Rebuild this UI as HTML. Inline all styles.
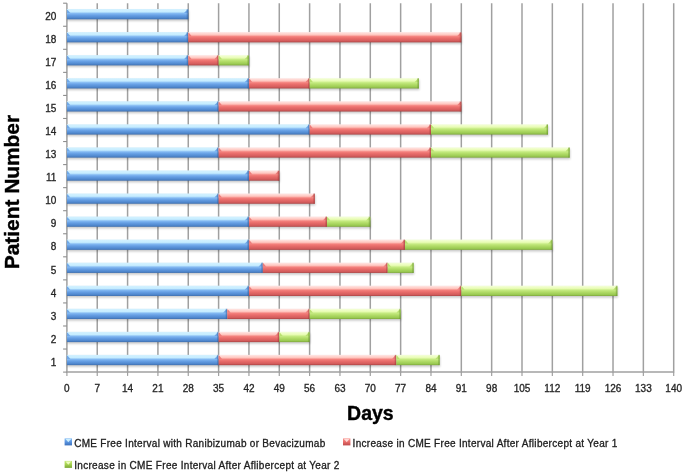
<!DOCTYPE html>
<html><head><meta charset="utf-8"><title>Chart</title>
<style>
html,body{margin:0;padding:0;background:#fff;}
body{width:685px;height:475px;overflow:hidden;}
svg{display:block;font-family:"Liberation Sans",sans-serif;}
.t{font-size:10px;fill:#262626;stroke:#262626;stroke-width:0.32px;}
.l{font-size:10px;fill:#202020;stroke:#202020;stroke-width:0.3px;}
.b{font-size:21px;font-weight:bold;fill:#000;stroke:#000;stroke-width:0.4px;}
</style></head><body>
<svg width="685" height="475" viewBox="0 0 685 475">
<defs>
<linearGradient id="gb" x1="0" y1="0" x2="0" y2="1">
<stop offset="0" stop-color="#d4f1ff"/><stop offset="0.27" stop-color="#c6edff"/><stop offset="0.44" stop-color="#82b8f2"/><stop offset="0.62" stop-color="#669fe4"/><stop offset="0.86" stop-color="#4f87cd"/><stop offset="1" stop-color="#3f6fae"/>
</linearGradient>
<linearGradient id="gr" x1="0" y1="0" x2="0" y2="1">
<stop offset="0" stop-color="#ffe9e7"/><stop offset="0.27" stop-color="#ffc6bf"/><stop offset="0.44" stop-color="#f4807c"/><stop offset="0.62" stop-color="#e86c6a"/><stop offset="0.86" stop-color="#d35c5c"/><stop offset="1" stop-color="#ab4444"/>
</linearGradient>
<linearGradient id="gg" x1="0" y1="0" x2="0" y2="1">
<stop offset="0" stop-color="#f5ffdc"/><stop offset="0.27" stop-color="#e8fcb4"/><stop offset="0.44" stop-color="#c4ea80"/><stop offset="0.62" stop-color="#b2dc68"/><stop offset="0.86" stop-color="#9aca52"/><stop offset="1" stop-color="#7ea63c"/>
</linearGradient>
<linearGradient id="mgb" x1="0" y1="0" x2="0" y2="1"><stop offset="0" stop-color="#86bcf4"/><stop offset="0.5" stop-color="#5a94e0"/><stop offset="1" stop-color="#3c70bc"/></linearGradient>
<linearGradient id="mgr" x1="0" y1="0" x2="0" y2="1"><stop offset="0" stop-color="#f99a94"/><stop offset="0.5" stop-color="#e86c6a"/><stop offset="1" stop-color="#bd4a4a"/></linearGradient>
<linearGradient id="mgg" x1="0" y1="0" x2="0" y2="1"><stop offset="0" stop-color="#c6ea78"/><stop offset="0.5" stop-color="#a6d24f"/><stop offset="1" stop-color="#7aa636"/></linearGradient>
<linearGradient id="egb" x1="0" y1="0" x2="1" y2="0"><stop offset="0" stop-color="#2f5c99" stop-opacity="0"/><stop offset="1" stop-color="#2f5c99" stop-opacity="0.75"/></linearGradient>
<linearGradient id="egr" x1="0" y1="0" x2="1" y2="0"><stop offset="0" stop-color="#9c3535" stop-opacity="0"/><stop offset="1" stop-color="#9c3535" stop-opacity="0.75"/></linearGradient>
<linearGradient id="egg" x1="0" y1="0" x2="1" y2="0"><stop offset="0" stop-color="#64902a" stop-opacity="0"/><stop offset="1" stop-color="#64902a" stop-opacity="0.75"/></linearGradient>
<filter id="sh" x="-5%" y="-50%" width="110%" height="220%"><feGaussianBlur stdDeviation="1.1"/></filter>
</defs>
<rect width="685" height="475" fill="#fff"/>

<g stroke="#a0a0a0" stroke-width="1.5" fill="none">
<line x1="66.90" y1="3.20" x2="66.90" y2="373.00"/>
<line x1="66.90" y1="373.00" x2="66.90" y2="375.90" stroke="#a0a0a0" stroke-width="1.2"/>
<line x1="97.24" y1="3.20" x2="97.24" y2="373.00"/>
<line x1="97.24" y1="373.00" x2="97.24" y2="375.90" stroke="#a0a0a0" stroke-width="1.2"/>
<line x1="127.58" y1="3.20" x2="127.58" y2="373.00"/>
<line x1="127.58" y1="373.00" x2="127.58" y2="375.90" stroke="#a0a0a0" stroke-width="1.2"/>
<line x1="157.92" y1="3.20" x2="157.92" y2="373.00"/>
<line x1="157.92" y1="373.00" x2="157.92" y2="375.90" stroke="#a0a0a0" stroke-width="1.2"/>
<line x1="188.26" y1="3.20" x2="188.26" y2="373.00"/>
<line x1="188.26" y1="373.00" x2="188.26" y2="375.90" stroke="#a0a0a0" stroke-width="1.2"/>
<line x1="218.60" y1="3.20" x2="218.60" y2="373.00"/>
<line x1="218.60" y1="373.00" x2="218.60" y2="375.90" stroke="#a0a0a0" stroke-width="1.2"/>
<line x1="248.94" y1="3.20" x2="248.94" y2="373.00"/>
<line x1="248.94" y1="373.00" x2="248.94" y2="375.90" stroke="#a0a0a0" stroke-width="1.2"/>
<line x1="279.28" y1="3.20" x2="279.28" y2="373.00"/>
<line x1="279.28" y1="373.00" x2="279.28" y2="375.90" stroke="#a0a0a0" stroke-width="1.2"/>
<line x1="309.62" y1="3.20" x2="309.62" y2="373.00"/>
<line x1="309.62" y1="373.00" x2="309.62" y2="375.90" stroke="#a0a0a0" stroke-width="1.2"/>
<line x1="339.96" y1="3.20" x2="339.96" y2="373.00"/>
<line x1="339.96" y1="373.00" x2="339.96" y2="375.90" stroke="#a0a0a0" stroke-width="1.2"/>
<line x1="370.30" y1="3.20" x2="370.30" y2="373.00"/>
<line x1="370.30" y1="373.00" x2="370.30" y2="375.90" stroke="#a0a0a0" stroke-width="1.2"/>
<line x1="400.64" y1="3.20" x2="400.64" y2="373.00"/>
<line x1="400.64" y1="373.00" x2="400.64" y2="375.90" stroke="#a0a0a0" stroke-width="1.2"/>
<line x1="430.98" y1="3.20" x2="430.98" y2="373.00"/>
<line x1="430.98" y1="373.00" x2="430.98" y2="375.90" stroke="#a0a0a0" stroke-width="1.2"/>
<line x1="461.32" y1="3.20" x2="461.32" y2="373.00"/>
<line x1="461.32" y1="373.00" x2="461.32" y2="375.90" stroke="#a0a0a0" stroke-width="1.2"/>
<line x1="491.66" y1="3.20" x2="491.66" y2="373.00"/>
<line x1="491.66" y1="373.00" x2="491.66" y2="375.90" stroke="#a0a0a0" stroke-width="1.2"/>
<line x1="522.00" y1="3.20" x2="522.00" y2="373.00"/>
<line x1="522.00" y1="373.00" x2="522.00" y2="375.90" stroke="#a0a0a0" stroke-width="1.2"/>
<line x1="552.34" y1="3.20" x2="552.34" y2="373.00"/>
<line x1="552.34" y1="373.00" x2="552.34" y2="375.90" stroke="#a0a0a0" stroke-width="1.2"/>
<line x1="582.68" y1="3.20" x2="582.68" y2="373.00"/>
<line x1="582.68" y1="373.00" x2="582.68" y2="375.90" stroke="#a0a0a0" stroke-width="1.2"/>
<line x1="613.02" y1="3.20" x2="613.02" y2="373.00"/>
<line x1="613.02" y1="373.00" x2="613.02" y2="375.90" stroke="#a0a0a0" stroke-width="1.2"/>
<line x1="643.36" y1="3.20" x2="643.36" y2="373.00"/>
<line x1="643.36" y1="373.00" x2="643.36" y2="375.90" stroke="#a0a0a0" stroke-width="1.2"/>
<line x1="673.70" y1="3.20" x2="673.70" y2="373.00"/>
<line x1="673.70" y1="373.00" x2="673.70" y2="375.90" stroke="#a0a0a0" stroke-width="1.2"/>
<line x1="66.90" y1="372.10" x2="673.70" y2="372.10"/>
<line x1="63.10" y1="3.20" x2="66.90" y2="3.20" stroke="#8e8e8e" stroke-width="1.1"/>
<line x1="63.10" y1="26.26" x2="66.90" y2="26.26" stroke="#8e8e8e" stroke-width="1.1"/>
<line x1="63.10" y1="49.31" x2="66.90" y2="49.31" stroke="#8e8e8e" stroke-width="1.1"/>
<line x1="63.10" y1="72.37" x2="66.90" y2="72.37" stroke="#8e8e8e" stroke-width="1.1"/>
<line x1="63.10" y1="95.43" x2="66.90" y2="95.43" stroke="#8e8e8e" stroke-width="1.1"/>
<line x1="63.10" y1="118.48" x2="66.90" y2="118.48" stroke="#8e8e8e" stroke-width="1.1"/>
<line x1="63.10" y1="141.54" x2="66.90" y2="141.54" stroke="#8e8e8e" stroke-width="1.1"/>
<line x1="63.10" y1="164.59" x2="66.90" y2="164.59" stroke="#8e8e8e" stroke-width="1.1"/>
<line x1="63.10" y1="187.65" x2="66.90" y2="187.65" stroke="#8e8e8e" stroke-width="1.1"/>
<line x1="63.10" y1="210.71" x2="66.90" y2="210.71" stroke="#8e8e8e" stroke-width="1.1"/>
<line x1="63.10" y1="233.76" x2="66.90" y2="233.76" stroke="#8e8e8e" stroke-width="1.1"/>
<line x1="63.10" y1="256.82" x2="66.90" y2="256.82" stroke="#8e8e8e" stroke-width="1.1"/>
<line x1="63.10" y1="279.88" x2="66.90" y2="279.88" stroke="#8e8e8e" stroke-width="1.1"/>
<line x1="63.10" y1="302.93" x2="66.90" y2="302.93" stroke="#8e8e8e" stroke-width="1.1"/>
<line x1="63.10" y1="325.99" x2="66.90" y2="325.99" stroke="#8e8e8e" stroke-width="1.1"/>
<line x1="63.10" y1="349.04" x2="66.90" y2="349.04" stroke="#8e8e8e" stroke-width="1.1"/>
<line x1="63.10" y1="372.10" x2="66.90" y2="372.10" stroke="#8e8e8e" stroke-width="1.1"/>
</g>
<g fill="#000" opacity="0.22" filter="url(#sh)">
<rect x="67.40" y="10.60" width="121.36" height="10.30"/>
<rect x="67.40" y="33.66" width="394.42" height="10.30"/>
<rect x="67.40" y="56.71" width="182.04" height="10.30"/>
<rect x="67.40" y="79.77" width="351.94" height="10.30"/>
<rect x="67.40" y="102.83" width="394.42" height="10.30"/>
<rect x="67.40" y="125.88" width="481.11" height="10.30"/>
<rect x="67.40" y="148.94" width="502.78" height="10.30"/>
<rect x="67.40" y="172.00" width="212.38" height="10.30"/>
<rect x="67.40" y="195.06" width="247.92" height="10.30"/>
<rect x="67.40" y="218.11" width="303.40" height="10.30"/>
<rect x="67.40" y="241.17" width="485.44" height="10.30"/>
<rect x="67.40" y="264.23" width="346.74" height="10.30"/>
<rect x="67.40" y="287.28" width="550.45" height="10.30"/>
<rect x="67.40" y="310.34" width="333.74" height="10.30"/>
<rect x="67.40" y="333.40" width="242.72" height="10.30"/>
<rect x="67.40" y="356.45" width="372.75" height="10.30"/>
</g>
<rect x="66.90" y="9.00" width="121.36" height="10.30" fill="url(#gb)"/>
<polygon points="184.06,13.10 187.16,9.70 188.26,9.70 188.26,13.10" fill="#6fa7e8"/>
<polygon points="66.90,9.70 67.50,9.70 70.30,13.10 66.90,13.10" fill="#6fa7e8"/>
<rect x="186.06" y="9.00" width="2.2" height="10.30" fill="url(#egb)"/>
<rect x="66.90" y="32.06" width="121.36" height="10.30" fill="url(#gb)"/>
<polygon points="184.06,36.16 187.16,32.76 188.26,32.76 188.26,36.16" fill="#6fa7e8"/>
<polygon points="66.90,32.76 67.50,32.76 70.30,36.16 66.90,36.16" fill="#6fa7e8"/>
<rect x="186.06" y="32.06" width="2.2" height="10.30" fill="url(#egb)"/>
<rect x="188.26" y="32.06" width="273.06" height="10.30" fill="url(#gr)"/>
<polygon points="457.12,36.16 460.22,32.76 461.32,32.76 461.32,36.16" fill="#ec7d7a"/>
<polygon points="188.26,32.76 188.86,32.76 191.66,36.16 188.26,36.16" fill="#ec7d7a"/>
<rect x="459.12" y="32.06" width="2.2" height="10.30" fill="url(#egr)"/>
<rect x="66.90" y="55.11" width="121.36" height="10.30" fill="url(#gb)"/>
<polygon points="184.06,59.21 187.16,55.81 188.26,55.81 188.26,59.21" fill="#6fa7e8"/>
<polygon points="66.90,55.81 67.50,55.81 70.30,59.21 66.90,59.21" fill="#6fa7e8"/>
<rect x="186.06" y="55.11" width="2.2" height="10.30" fill="url(#egb)"/>
<rect x="188.26" y="55.11" width="30.34" height="10.30" fill="url(#gr)"/>
<polygon points="214.40,59.21 217.50,55.81 218.60,55.81 218.60,59.21" fill="#ec7d7a"/>
<polygon points="188.26,55.81 188.86,55.81 191.66,59.21 188.26,59.21" fill="#ec7d7a"/>
<rect x="216.40" y="55.11" width="2.2" height="10.30" fill="url(#egr)"/>
<rect x="218.60" y="55.11" width="30.34" height="10.30" fill="url(#gg)"/>
<polygon points="244.74,59.21 247.84,55.81 248.94,55.81 248.94,59.21" fill="#b9e070"/>
<polygon points="218.60,55.81 219.20,55.81 222.00,59.21 218.60,59.21" fill="#b9e070"/>
<rect x="246.74" y="55.11" width="2.2" height="10.30" fill="url(#egg)"/>
<rect x="66.90" y="78.17" width="182.04" height="10.30" fill="url(#gb)"/>
<polygon points="244.74,82.27 247.84,78.87 248.94,78.87 248.94,82.27" fill="#6fa7e8"/>
<polygon points="66.90,78.87 67.50,78.87 70.30,82.27 66.90,82.27" fill="#6fa7e8"/>
<rect x="246.74" y="78.17" width="2.2" height="10.30" fill="url(#egb)"/>
<rect x="248.94" y="78.17" width="60.68" height="10.30" fill="url(#gr)"/>
<polygon points="305.42,82.27 308.52,78.87 309.62,78.87 309.62,82.27" fill="#ec7d7a"/>
<polygon points="248.94,78.87 249.54,78.87 252.34,82.27 248.94,82.27" fill="#ec7d7a"/>
<rect x="307.42" y="78.17" width="2.2" height="10.30" fill="url(#egr)"/>
<rect x="309.62" y="78.17" width="109.22" height="10.30" fill="url(#gg)"/>
<polygon points="414.64,82.27 417.74,78.87 418.84,78.87 418.84,82.27" fill="#b9e070"/>
<polygon points="309.62,78.87 310.22,78.87 313.02,82.27 309.62,82.27" fill="#b9e070"/>
<rect x="416.64" y="78.17" width="2.2" height="10.30" fill="url(#egg)"/>
<rect x="66.90" y="101.23" width="151.70" height="10.30" fill="url(#gb)"/>
<polygon points="214.40,105.33 217.50,101.93 218.60,101.93 218.60,105.33" fill="#6fa7e8"/>
<polygon points="66.90,101.93 67.50,101.93 70.30,105.33 66.90,105.33" fill="#6fa7e8"/>
<rect x="216.40" y="101.23" width="2.2" height="10.30" fill="url(#egb)"/>
<rect x="218.60" y="101.23" width="242.72" height="10.30" fill="url(#gr)"/>
<polygon points="457.12,105.33 460.22,101.93 461.32,101.93 461.32,105.33" fill="#ec7d7a"/>
<polygon points="218.60,101.93 219.20,101.93 222.00,105.33 218.60,105.33" fill="#ec7d7a"/>
<rect x="459.12" y="101.23" width="2.2" height="10.30" fill="url(#egr)"/>
<rect x="66.90" y="124.28" width="242.72" height="10.30" fill="url(#gb)"/>
<polygon points="305.42,128.38 308.52,124.98 309.62,124.98 309.62,128.38" fill="#6fa7e8"/>
<polygon points="66.90,124.98 67.50,124.98 70.30,128.38 66.90,128.38" fill="#6fa7e8"/>
<rect x="307.42" y="124.28" width="2.2" height="10.30" fill="url(#egb)"/>
<rect x="309.62" y="124.28" width="121.36" height="10.30" fill="url(#gr)"/>
<polygon points="426.78,128.38 429.88,124.98 430.98,124.98 430.98,128.38" fill="#ec7d7a"/>
<polygon points="309.62,124.98 310.22,124.98 313.02,128.38 309.62,128.38" fill="#ec7d7a"/>
<rect x="428.78" y="124.28" width="2.2" height="10.30" fill="url(#egr)"/>
<rect x="430.98" y="124.28" width="117.03" height="10.30" fill="url(#gg)"/>
<polygon points="543.81,128.38 546.91,124.98 548.01,124.98 548.01,128.38" fill="#b9e070"/>
<polygon points="430.98,124.98 431.58,124.98 434.38,128.38 430.98,128.38" fill="#b9e070"/>
<rect x="545.81" y="124.28" width="2.2" height="10.30" fill="url(#egg)"/>
<rect x="66.90" y="147.34" width="151.70" height="10.30" fill="url(#gb)"/>
<polygon points="214.40,151.44 217.50,148.04 218.60,148.04 218.60,151.44" fill="#6fa7e8"/>
<polygon points="66.90,148.04 67.50,148.04 70.30,151.44 66.90,151.44" fill="#6fa7e8"/>
<rect x="216.40" y="147.34" width="2.2" height="10.30" fill="url(#egb)"/>
<rect x="218.60" y="147.34" width="212.38" height="10.30" fill="url(#gr)"/>
<polygon points="426.78,151.44 429.88,148.04 430.98,148.04 430.98,151.44" fill="#ec7d7a"/>
<polygon points="218.60,148.04 219.20,148.04 222.00,151.44 218.60,151.44" fill="#ec7d7a"/>
<rect x="428.78" y="147.34" width="2.2" height="10.30" fill="url(#egr)"/>
<rect x="430.98" y="147.34" width="138.70" height="10.30" fill="url(#gg)"/>
<polygon points="565.48,151.44 568.58,148.04 569.68,148.04 569.68,151.44" fill="#b9e070"/>
<polygon points="430.98,148.04 431.58,148.04 434.38,151.44 430.98,151.44" fill="#b9e070"/>
<rect x="567.48" y="147.34" width="2.2" height="10.30" fill="url(#egg)"/>
<rect x="66.90" y="170.40" width="182.04" height="10.30" fill="url(#gb)"/>
<polygon points="244.74,174.50 247.84,171.10 248.94,171.10 248.94,174.50" fill="#6fa7e8"/>
<polygon points="66.90,171.10 67.50,171.10 70.30,174.50 66.90,174.50" fill="#6fa7e8"/>
<rect x="246.74" y="170.40" width="2.2" height="10.30" fill="url(#egb)"/>
<rect x="248.94" y="170.40" width="30.34" height="10.30" fill="url(#gr)"/>
<polygon points="275.08,174.50 278.18,171.10 279.28,171.10 279.28,174.50" fill="#ec7d7a"/>
<polygon points="248.94,171.10 249.54,171.10 252.34,174.50 248.94,174.50" fill="#ec7d7a"/>
<rect x="277.08" y="170.40" width="2.2" height="10.30" fill="url(#egr)"/>
<rect x="66.90" y="193.46" width="151.70" height="10.30" fill="url(#gb)"/>
<polygon points="214.40,197.56 217.50,194.16 218.60,194.16 218.60,197.56" fill="#6fa7e8"/>
<polygon points="66.90,194.16 67.50,194.16 70.30,197.56 66.90,197.56" fill="#6fa7e8"/>
<rect x="216.40" y="193.46" width="2.2" height="10.30" fill="url(#egb)"/>
<rect x="218.60" y="193.46" width="96.22" height="10.30" fill="url(#gr)"/>
<polygon points="310.62,197.56 313.72,194.16 314.82,194.16 314.82,197.56" fill="#ec7d7a"/>
<polygon points="218.60,194.16 219.20,194.16 222.00,197.56 218.60,197.56" fill="#ec7d7a"/>
<rect x="312.62" y="193.46" width="2.2" height="10.30" fill="url(#egr)"/>
<rect x="66.90" y="216.51" width="182.04" height="10.30" fill="url(#gb)"/>
<polygon points="244.74,220.61 247.84,217.21 248.94,217.21 248.94,220.61" fill="#6fa7e8"/>
<polygon points="66.90,217.21 67.50,217.21 70.30,220.61 66.90,220.61" fill="#6fa7e8"/>
<rect x="246.74" y="216.51" width="2.2" height="10.30" fill="url(#egb)"/>
<rect x="248.94" y="216.51" width="78.02" height="10.30" fill="url(#gr)"/>
<polygon points="322.76,220.61 325.86,217.21 326.96,217.21 326.96,220.61" fill="#ec7d7a"/>
<polygon points="248.94,217.21 249.54,217.21 252.34,220.61 248.94,220.61" fill="#ec7d7a"/>
<rect x="324.76" y="216.51" width="2.2" height="10.30" fill="url(#egr)"/>
<rect x="326.96" y="216.51" width="43.34" height="10.30" fill="url(#gg)"/>
<polygon points="366.10,220.61 369.20,217.21 370.30,217.21 370.30,220.61" fill="#b9e070"/>
<polygon points="326.96,217.21 327.56,217.21 330.36,220.61 326.96,220.61" fill="#b9e070"/>
<rect x="368.10" y="216.51" width="2.2" height="10.30" fill="url(#egg)"/>
<rect x="66.90" y="239.57" width="182.04" height="10.30" fill="url(#gb)"/>
<polygon points="244.74,243.67 247.84,240.27 248.94,240.27 248.94,243.67" fill="#6fa7e8"/>
<polygon points="66.90,240.27 67.50,240.27 70.30,243.67 66.90,243.67" fill="#6fa7e8"/>
<rect x="246.74" y="239.57" width="2.2" height="10.30" fill="url(#egb)"/>
<rect x="248.94" y="239.57" width="156.03" height="10.30" fill="url(#gr)"/>
<polygon points="400.77,243.67 403.87,240.27 404.97,240.27 404.97,243.67" fill="#ec7d7a"/>
<polygon points="248.94,240.27 249.54,240.27 252.34,243.67 248.94,243.67" fill="#ec7d7a"/>
<rect x="402.77" y="239.57" width="2.2" height="10.30" fill="url(#egr)"/>
<rect x="404.97" y="239.57" width="147.37" height="10.30" fill="url(#gg)"/>
<polygon points="548.14,243.67 551.24,240.27 552.34,240.27 552.34,243.67" fill="#b9e070"/>
<polygon points="404.97,240.27 405.57,240.27 408.37,243.67 404.97,243.67" fill="#b9e070"/>
<rect x="550.14" y="239.57" width="2.2" height="10.30" fill="url(#egg)"/>
<rect x="66.90" y="262.63" width="195.91" height="10.30" fill="url(#gb)"/>
<polygon points="258.61,266.73 261.71,263.33 262.81,263.33 262.81,266.73" fill="#6fa7e8"/>
<polygon points="66.90,263.33 67.50,263.33 70.30,266.73 66.90,266.73" fill="#6fa7e8"/>
<rect x="260.61" y="262.63" width="2.2" height="10.30" fill="url(#egb)"/>
<rect x="262.81" y="262.63" width="124.83" height="10.30" fill="url(#gr)"/>
<polygon points="383.44,266.73 386.54,263.33 387.64,263.33 387.64,266.73" fill="#ec7d7a"/>
<polygon points="262.81,263.33 263.41,263.33 266.21,266.73 262.81,266.73" fill="#ec7d7a"/>
<rect x="385.44" y="262.63" width="2.2" height="10.30" fill="url(#egr)"/>
<rect x="387.64" y="262.63" width="26.01" height="10.30" fill="url(#gg)"/>
<polygon points="409.44,266.73 412.54,263.33 413.64,263.33 413.64,266.73" fill="#b9e070"/>
<polygon points="387.64,263.33 388.24,263.33 391.04,266.73 387.64,266.73" fill="#b9e070"/>
<rect x="411.44" y="262.63" width="2.2" height="10.30" fill="url(#egg)"/>
<rect x="66.90" y="285.68" width="182.04" height="10.30" fill="url(#gb)"/>
<polygon points="244.74,289.78 247.84,286.38 248.94,286.38 248.94,289.78" fill="#6fa7e8"/>
<polygon points="66.90,286.38 67.50,286.38 70.30,289.78 66.90,289.78" fill="#6fa7e8"/>
<rect x="246.74" y="285.68" width="2.2" height="10.30" fill="url(#egb)"/>
<rect x="248.94" y="285.68" width="212.38" height="10.30" fill="url(#gr)"/>
<polygon points="457.12,289.78 460.22,286.38 461.32,286.38 461.32,289.78" fill="#ec7d7a"/>
<polygon points="248.94,286.38 249.54,286.38 252.34,289.78 248.94,289.78" fill="#ec7d7a"/>
<rect x="459.12" y="285.68" width="2.2" height="10.30" fill="url(#egr)"/>
<rect x="461.32" y="285.68" width="156.03" height="10.30" fill="url(#gg)"/>
<polygon points="613.15,289.78 616.25,286.38 617.35,286.38 617.35,289.78" fill="#b9e070"/>
<polygon points="461.32,286.38 461.92,286.38 464.72,289.78 461.32,289.78" fill="#b9e070"/>
<rect x="615.15" y="285.68" width="2.2" height="10.30" fill="url(#egg)"/>
<rect x="66.90" y="308.74" width="160.37" height="10.30" fill="url(#gb)"/>
<polygon points="223.07,312.84 226.17,309.44 227.27,309.44 227.27,312.84" fill="#6fa7e8"/>
<polygon points="66.90,309.44 67.50,309.44 70.30,312.84 66.90,312.84" fill="#6fa7e8"/>
<rect x="225.07" y="308.74" width="2.2" height="10.30" fill="url(#egb)"/>
<rect x="227.27" y="308.74" width="82.35" height="10.30" fill="url(#gr)"/>
<polygon points="305.42,312.84 308.52,309.44 309.62,309.44 309.62,312.84" fill="#ec7d7a"/>
<polygon points="227.27,309.44 227.87,309.44 230.67,312.84 227.27,312.84" fill="#ec7d7a"/>
<rect x="307.42" y="308.74" width="2.2" height="10.30" fill="url(#egr)"/>
<rect x="309.62" y="308.74" width="91.02" height="10.30" fill="url(#gg)"/>
<polygon points="396.44,312.84 399.54,309.44 400.64,309.44 400.64,312.84" fill="#b9e070"/>
<polygon points="309.62,309.44 310.22,309.44 313.02,312.84 309.62,312.84" fill="#b9e070"/>
<rect x="398.44" y="308.74" width="2.2" height="10.30" fill="url(#egg)"/>
<rect x="66.90" y="331.80" width="151.70" height="10.30" fill="url(#gb)"/>
<polygon points="214.40,335.90 217.50,332.50 218.60,332.50 218.60,335.90" fill="#6fa7e8"/>
<polygon points="66.90,332.50 67.50,332.50 70.30,335.90 66.90,335.90" fill="#6fa7e8"/>
<rect x="216.40" y="331.80" width="2.2" height="10.30" fill="url(#egb)"/>
<rect x="218.60" y="331.80" width="60.68" height="10.30" fill="url(#gr)"/>
<polygon points="275.08,335.90 278.18,332.50 279.28,332.50 279.28,335.90" fill="#ec7d7a"/>
<polygon points="218.60,332.50 219.20,332.50 222.00,335.90 218.60,335.90" fill="#ec7d7a"/>
<rect x="277.08" y="331.80" width="2.2" height="10.30" fill="url(#egr)"/>
<rect x="279.28" y="331.80" width="30.34" height="10.30" fill="url(#gg)"/>
<polygon points="305.42,335.90 308.52,332.50 309.62,332.50 309.62,335.90" fill="#b9e070"/>
<polygon points="279.28,332.50 279.88,332.50 282.68,335.90 279.28,335.90" fill="#b9e070"/>
<rect x="307.42" y="331.80" width="2.2" height="10.30" fill="url(#egg)"/>
<rect x="66.90" y="354.85" width="151.70" height="10.30" fill="url(#gb)"/>
<polygon points="214.40,358.95 217.50,355.55 218.60,355.55 218.60,358.95" fill="#6fa7e8"/>
<polygon points="66.90,355.55 67.50,355.55 70.30,358.95 66.90,358.95" fill="#6fa7e8"/>
<rect x="216.40" y="354.85" width="2.2" height="10.30" fill="url(#egb)"/>
<rect x="218.60" y="354.85" width="177.71" height="10.30" fill="url(#gr)"/>
<polygon points="392.11,358.95 395.21,355.55 396.31,355.55 396.31,358.95" fill="#ec7d7a"/>
<polygon points="218.60,355.55 219.20,355.55 222.00,358.95 218.60,358.95" fill="#ec7d7a"/>
<rect x="394.11" y="354.85" width="2.2" height="10.30" fill="url(#egr)"/>
<rect x="396.31" y="354.85" width="43.34" height="10.30" fill="url(#gg)"/>
<polygon points="435.45,358.95 438.55,355.55 439.65,355.55 439.65,358.95" fill="#b9e070"/>
<polygon points="396.31,355.55 396.91,355.55 399.71,358.95 396.31,358.95" fill="#b9e070"/>
<rect x="437.45" y="354.85" width="2.2" height="10.30" fill="url(#egg)"/>
<g class="t" text-anchor="end">
<text x="56.3" y="19.75">20</text>
<text x="56.3" y="42.82">18</text>
<text x="56.3" y="65.89">17</text>
<text x="56.3" y="88.96">16</text>
<text x="56.3" y="112.03">15</text>
<text x="56.3" y="135.10">14</text>
<text x="56.3" y="158.17">13</text>
<text x="56.3" y="181.24">11</text>
<text x="56.3" y="204.31">10</text>
<text x="56.3" y="227.38">9</text>
<text x="56.3" y="250.45">8</text>
<text x="56.3" y="273.52">5</text>
<text x="56.3" y="296.59">4</text>
<text x="56.3" y="319.66">3</text>
<text x="56.3" y="342.73">2</text>
<text x="56.3" y="365.80">1</text>
</g>
<g class="t" text-anchor="middle">
<text x="66.90" y="391.7">0</text>
<text x="97.24" y="391.7">7</text>
<text x="127.58" y="391.7">14</text>
<text x="157.92" y="391.7">21</text>
<text x="188.26" y="391.7">28</text>
<text x="218.60" y="391.7">35</text>
<text x="248.94" y="391.7">42</text>
<text x="279.28" y="391.7">49</text>
<text x="309.62" y="391.7">56</text>
<text x="339.96" y="391.7">63</text>
<text x="370.30" y="391.7">70</text>
<text x="400.64" y="391.7">77</text>
<text x="430.98" y="391.7">84</text>
<text x="461.32" y="391.7">91</text>
<text x="491.66" y="391.7">98</text>
<text x="522.00" y="391.7">105</text>
<text x="552.34" y="391.7">112</text>
<text x="582.68" y="391.7">119</text>
<text x="613.02" y="391.7">126</text>
<text x="643.36" y="391.7">133</text>
<text x="673.70" y="391.7">140</text>
</g>
<text class="b" x="347.1" y="420.1" textLength="46.6" lengthAdjust="spacingAndGlyphs">Days</text>
<text class="b" transform="translate(18.9 269.3) rotate(-90)" textLength="154.4" lengthAdjust="spacingAndGlyphs">Patient Number</text>
<rect x="64.60" y="438.40" width="7.4" height="7" fill="url(#mgb)"/>
<polygon points="65.50,438.90 71.10,438.90 68.30,442.30" fill="#d2f3ff" opacity="0.92"/>
<text class="l" x="74.20" y="446.50" textLength="251" lengthAdjust="spacing">CME Free Interval with Ranibizumab or Bevacizumab</text>
<rect x="343.00" y="438.40" width="7.4" height="7" fill="url(#mgr)"/>
<polygon points="343.90,438.90 349.50,438.90 346.70,442.30" fill="#ffe0dc" opacity="0.92"/>
<text class="l" x="352.60" y="446.50" textLength="264.7" lengthAdjust="spacing">Increase in CME Free Interval After Aflibercept at Year 1</text>
<rect x="64.60" y="460.90" width="7.4" height="7" fill="url(#mgg)"/>
<polygon points="65.50,461.40 71.10,461.40 68.30,464.80" fill="#f0ffc4" opacity="0.92"/>
<text class="l" x="74.20" y="469.00" textLength="265.2" lengthAdjust="spacing">Increase in CME Free Interval After Aflibercept at Year 2</text>
</svg></body></html>
